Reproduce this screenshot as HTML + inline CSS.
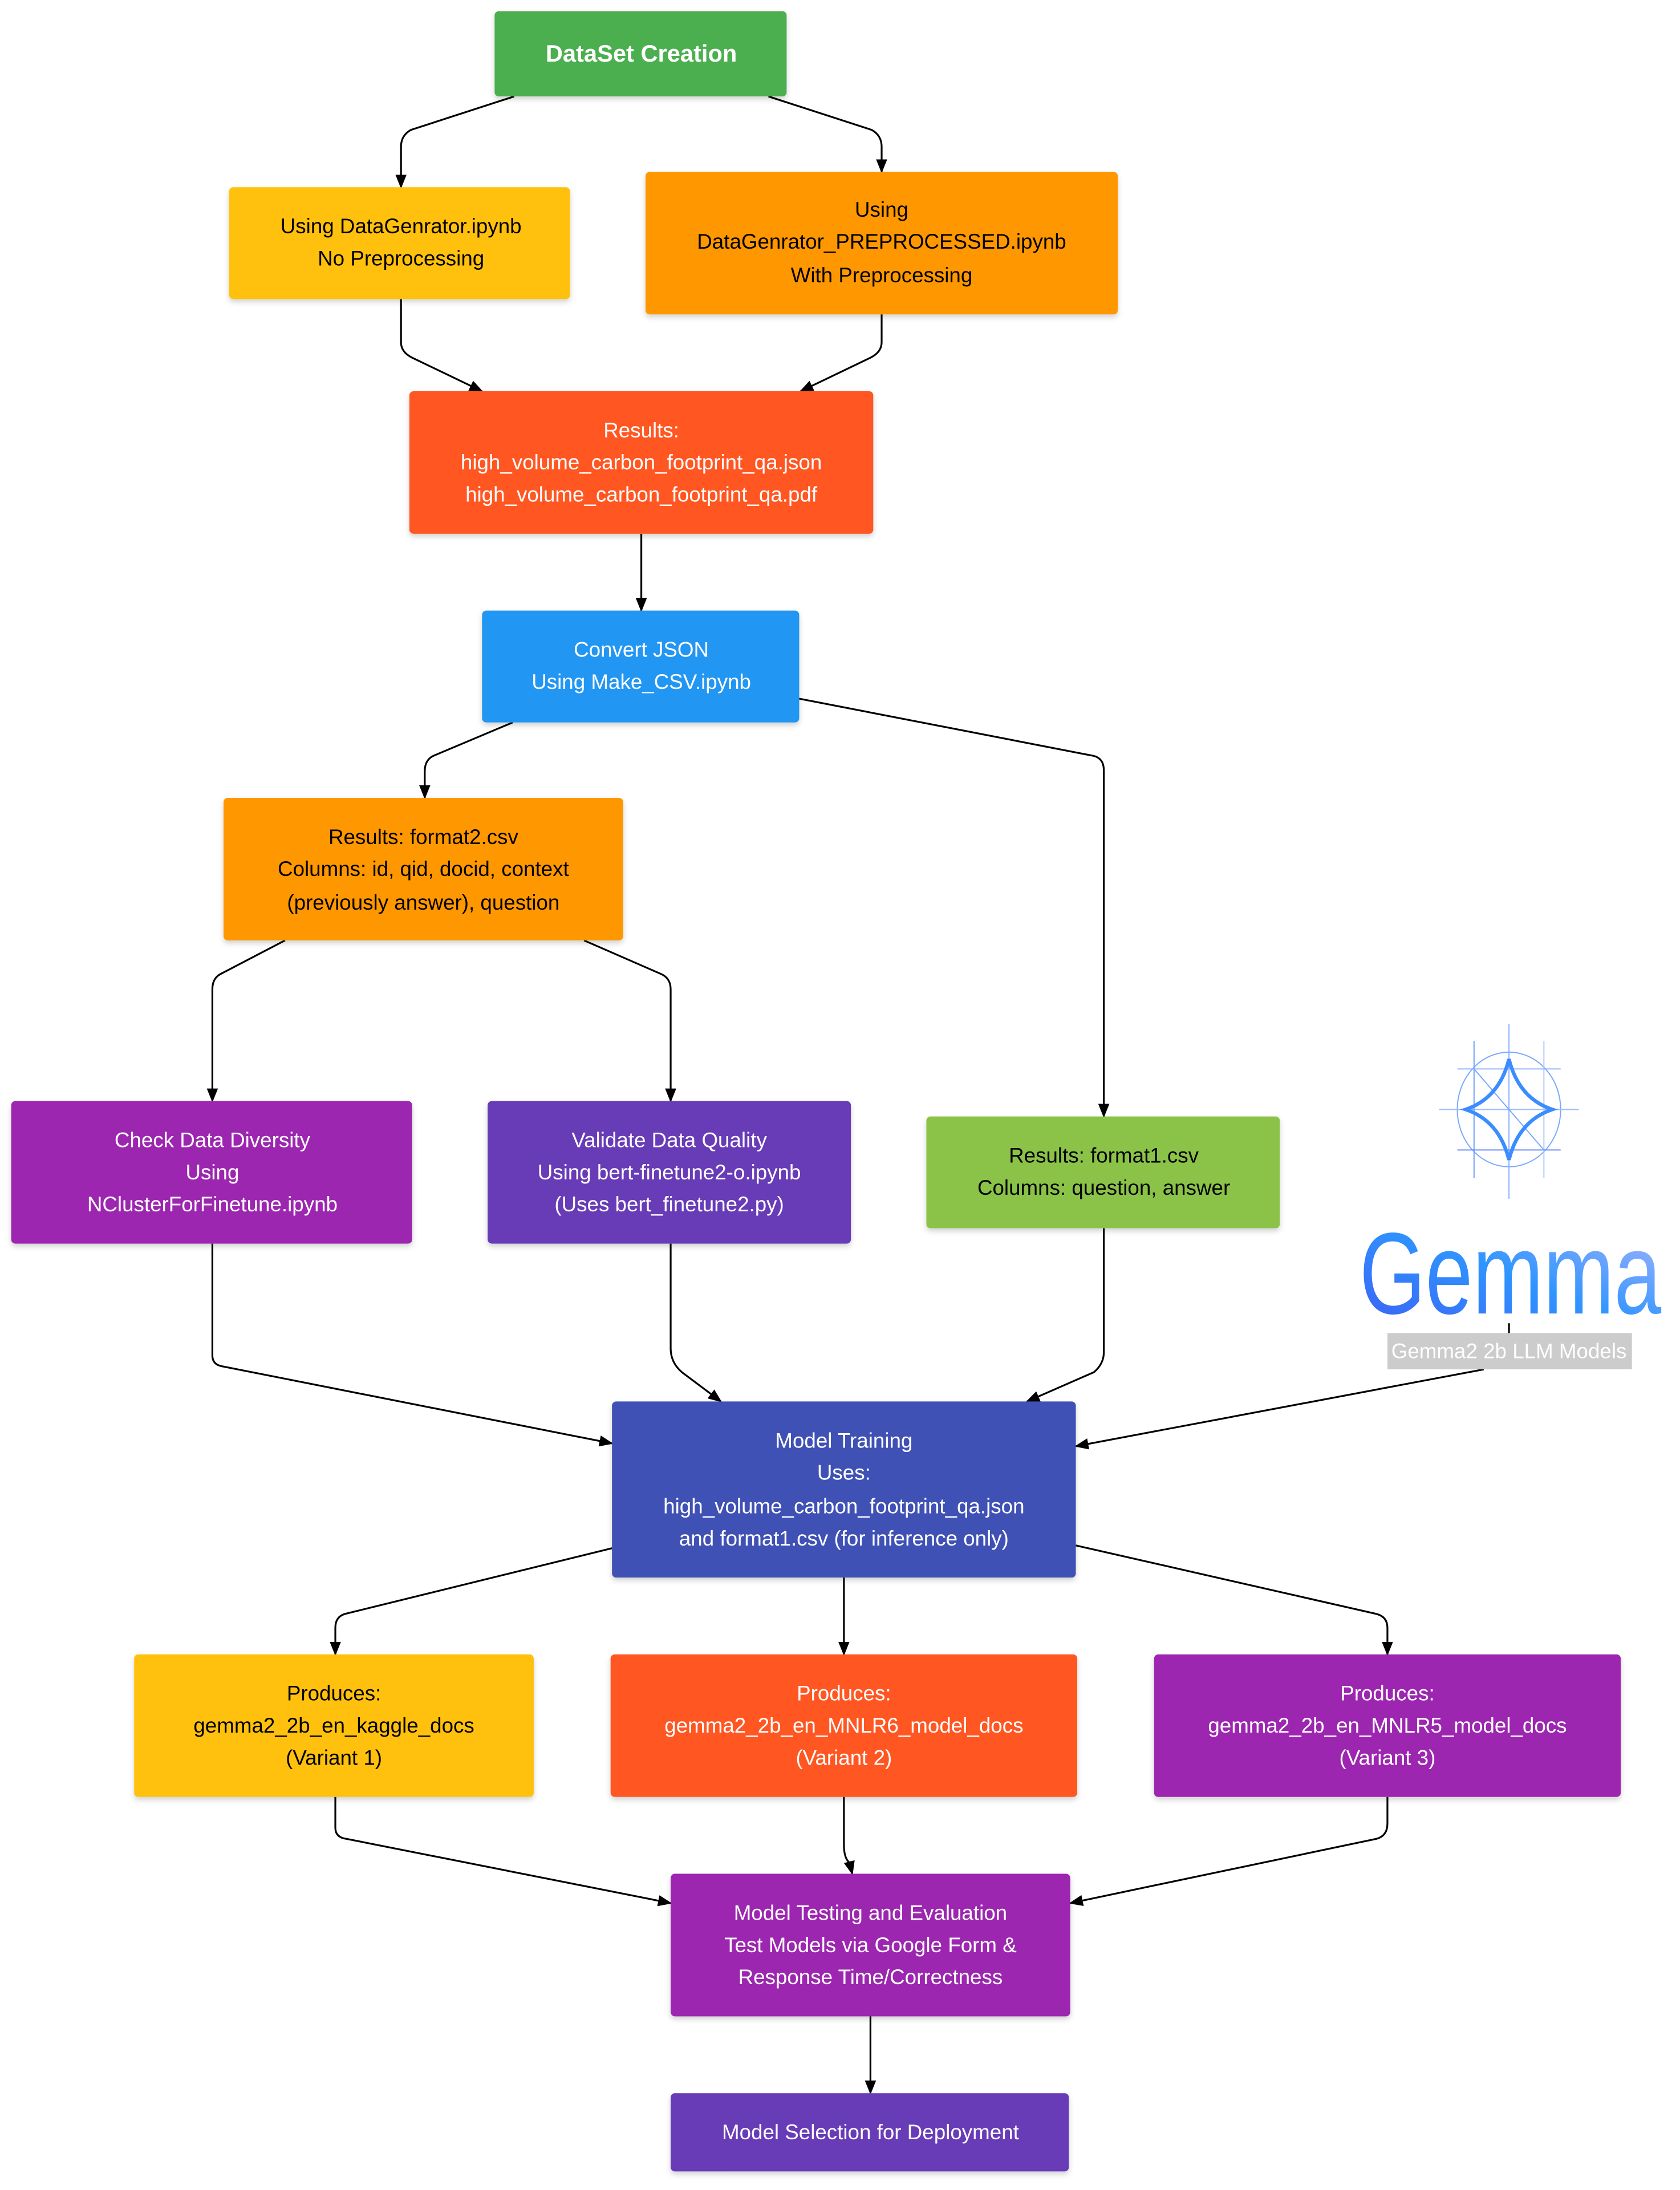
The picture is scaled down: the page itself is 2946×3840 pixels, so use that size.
<!DOCTYPE html>
<html><head><meta charset="utf-8"><style>
html,body{margin:0;padding:0;background:#fff}
svg{display:block}
text{font-family:"Liberation Sans",Arial,sans-serif;font-size:15px;text-anchor:middle}
.w{fill:#fff}.k{fill:#000}
</style></head><body>
<svg width="2946" height="3840" viewBox="0 0 1202.4 1567.3" xmlns="http://www.w3.org/2000/svg">
<defs>
<marker id="a" markerUnits="userSpaceOnUse" markerWidth="10" markerHeight="10" refX="9" refY="4" orient="auto"><path d="M0,0 L10,4 L0,8 z" fill="#000"/></marker>
<filter id="s" x="-10%" y="-10%" width="120%" height="130%"><feDropShadow dx="0" dy="2" stdDeviation="2" flood-color="#000" flood-opacity="0.18"/></filter>
<linearGradient id="g" x1="0" y1="1" x2="1" y2="0"><stop offset="0" stop-color="#3d5cf5"/><stop offset="0.5" stop-color="#2f95ff"/><stop offset="1" stop-color="#b8b8ff"/></linearGradient>
</defs>
<g fill="none" stroke="#000" stroke-width="1.3" marker-end="url(#a)">
<path d="M368,69 L294,93 Q287,97 287,105 L287,134"/>
<path d="M550,69 L624,93 Q631,97 631,105 L631,123"/>
<path d="M287,214 L287,245 Q287,252 295,256 L345,280"/>
<path d="M631,225 L631,245 Q631,252 623,256 L573,280"/>
<path d="M459,382 L459,437"/>
<path d="M367,517 L310,541 Q304,544 304,552 L304,571"/>
<path d="M572,500 L783,541 Q790,543 790,551 L790,799"/>
<path d="M204,673 L158,697 Q152,700 152,708 L152,788"/>
<path d="M418,673 L473,697 Q480,700 480,708 L480,788"/>
<path d="M152,890 L152,970 Q152,977 160,978 L438,1033"/>
<path d="M480,890 L480,965 Q480,975 488,982 L516,1003"/>
<path d="M790,879 L790,968 Q790,976 783,982 L735,1003"/>
<path d="M1062,980 L770,1035"/>
<path d="M438,1108 L247,1155 Q240,1157 240,1165 L240,1184"/>
<path d="M604,1129 L604,1184"/>
<path d="M770,1106 L985,1155 Q993,1157 993,1165 L993,1184"/>
<path d="M240,1286 L240,1308 Q240,1315 248,1316 L480,1362"/>
<path d="M604,1286 L604,1320 Q604,1330 608,1333 L610,1341"/>
<path d="M993,1286 L993,1305 Q993,1314 985,1316 L766,1362"/>
<path d="M623,1443 L623,1498"/>
</g>
<line x1="1080" y1="947" x2="1080" y2="954" stroke="#000" stroke-width="1.3"/>
<g filter="url(#s)">
<rect x="354" y="8" width="209" height="61" rx="3" fill="#4CAF50"/>
<rect x="164" y="134" width="244" height="80" rx="3" fill="#FFC107"/>
<rect x="462" y="123" width="338" height="102" rx="3" fill="#FF9800"/>
<rect x="293" y="280" width="332" height="102" rx="3" fill="#FF5722"/>
<rect x="345" y="437" width="227" height="80" rx="3" fill="#2196F3"/>
<rect x="160" y="571" width="286" height="102" rx="3" fill="#FF9800"/>
<rect x="8" y="788" width="287" height="102" rx="3" fill="#9C27B0"/>
<rect x="349" y="788" width="260" height="102" rx="3" fill="#673AB7"/>
<rect x="663" y="799" width="253" height="80" rx="3" fill="#8BC34A"/>
<rect x="438" y="1003" width="332" height="126" rx="3" fill="#3F51B5"/>
<rect x="96" y="1184" width="286" height="102" rx="3" fill="#FFC107"/>
<rect x="437" y="1184" width="334" height="102" rx="3" fill="#FF5722"/>
<rect x="826" y="1184" width="334" height="102" rx="3" fill="#9C27B0"/>
<rect x="480" y="1341" width="286" height="102" rx="3" fill="#9C27B0"/>
<rect x="480" y="1498" width="285" height="56" rx="3" fill="#673AB7"/>
</g>
<text x="459" y="44" class="w" style="font-weight:bold;font-size:17px">DataSet Creation</text>
<text x="287" y="167" class="k">Using DataGenrator.ipynb</text>
<text x="287" y="190" class="k">No Preprocessing</text>
<text x="631" y="155" class="k">Using</text>
<text x="631" y="178" class="k">DataGenrator_PREPROCESSED.ipynb</text>
<text x="631" y="202" class="k">With Preprocessing</text>
<text x="459" y="313" class="w">Results:</text>
<text x="459" y="336" class="w">high_volume_carbon_footprint_qa.json</text>
<text x="459" y="359" class="w">high_volume_carbon_footprint_qa.pdf</text>
<text x="459" y="470" class="w">Convert JSON</text>
<text x="459" y="493" class="w">Using Make_CSV.ipynb</text>
<text x="303" y="604" class="k">Results: format2.csv</text>
<text x="303" y="627" class="k">Columns: id, qid, docid, context</text>
<text x="303" y="651" class="k">(previously answer), question</text>
<text x="152" y="821" class="w">Check Data Diversity</text>
<text x="152" y="844" class="w">Using</text>
<text x="152" y="867" class="w">NClusterForFinetune.ipynb</text>
<text x="479" y="821" class="w">Validate Data Quality</text>
<text x="479" y="844" class="w">Using bert-finetune2-o.ipynb</text>
<text x="479" y="867" class="w">(Uses bert_finetune2.py)</text>
<text x="790" y="832" class="k">Results: format1.csv</text>
<text x="790" y="855" class="k">Columns: question, answer</text>
<text x="604" y="1036" class="w">Model Training</text>
<text x="604" y="1059" class="w">Uses:</text>
<text x="604" y="1083" class="w">high_volume_carbon_footprint_qa.json</text>
<text x="604" y="1106" class="w">and format1.csv (for inference only)</text>
<text x="239" y="1217" class="k">Produces:</text>
<text x="239" y="1240" class="k">gemma2_2b_en_kaggle_docs</text>
<text x="239" y="1263" class="k">(Variant 1)</text>
<text x="604" y="1217" class="w">Produces:</text>
<text x="604" y="1240" class="w">gemma2_2b_en_MNLR6_model_docs</text>
<text x="604" y="1263" class="w">(Variant 2)</text>
<text x="993" y="1217" class="w">Produces:</text>
<text x="993" y="1240" class="w">gemma2_2b_en_MNLR5_model_docs</text>
<text x="993" y="1263" class="w">(Variant 3)</text>
<text x="623" y="1374" class="w">Model Testing and Evaluation</text>
<text x="623" y="1397" class="w">Test Models via Google Form &amp;</text>
<text x="623" y="1420" class="w">Response Time/Correctness</text>
<text x="623" y="1531" class="w">Model Selection for Deployment</text>
<g fill="none" stroke-width="0.8">
<ellipse cx="1080" cy="794" rx="37" ry="41" stroke="#7aa8ff"/>
<line x1="1080" y1="733" x2="1080" y2="858" stroke="#8ab0ff"/>
<line x1="1030" y1="794" x2="1130" y2="794" stroke="#9bbaff"/>
<line x1="1055" y1="745" x2="1055" y2="843" stroke="#6a9cff"/>
<line x1="1105" y1="745" x2="1105" y2="843" stroke="#b0c8ff"/>
<line x1="1043" y1="765" x2="1117" y2="765" stroke="#8ab0ff"/>
<line x1="1043" y1="823" x2="1117" y2="823" stroke="#6a8cff"/>
<line x1="1055" y1="765" x2="1105" y2="823" stroke="#7aa8ff"/>
</g>
<path d="M1080,758 Q1073,786 1049,794 Q1073,802 1080,830 Q1087,802 1111,794 Q1087,786 1080,758 Z" fill="none" stroke="#3a8cff" stroke-width="2.6"/>
<text x="1081" y="940" textLength="216" lengthAdjust="spacingAndGlyphs" fill="url(#g)" style="font-size:83px">Gemma</text>
<rect x="993" y="954" width="175" height="26" fill="#cccccc"/>
<text x="1080" y="972" class="w">Gemma2 2b LLM Models</text>
</svg>
</body></html>
